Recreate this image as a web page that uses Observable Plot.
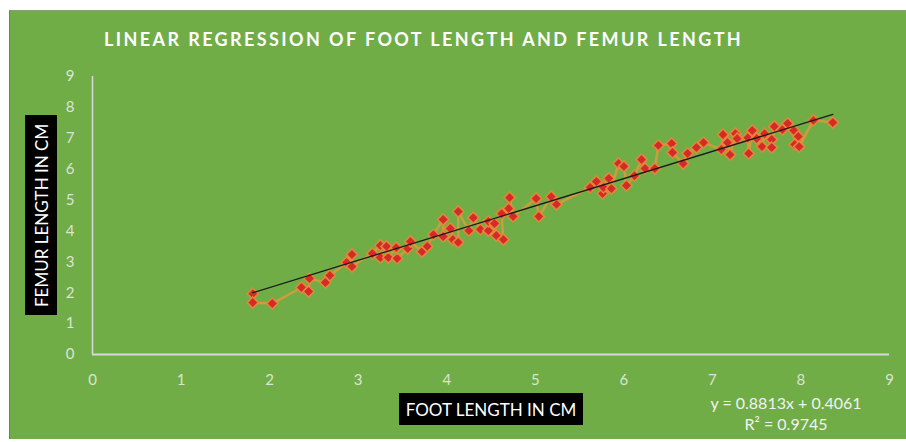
<!DOCTYPE html>
<html>
<head>
<meta charset="utf-8">
<script src="https://cdn.jsdelivr.net/npm/d3@7"></script>
<script src="https://cdn.jsdelivr.net/npm/@observablehq/plot@0.6"></script>
<style>
  html, body { margin: 0; padding: 0; background: #ffffff; }
  #wrap { position: relative; width: 906px; height: 442px; overflow: hidden; font-family: Lato, "Open Sans", sans-serif; }
  #bg { position: absolute; left: 9px; top: 10px; right: 0; bottom: 3px; background: #70AD47; border-left: 1px solid #5d9338; border-top: 1px solid #8a9a7a; }
  #chart { position: absolute; left: 0; top: 0; }
  .title { position: absolute; left: 104px; top: 28px; color: #ffffff; font-weight: 700; font-size: 18px; letter-spacing: 2.4px; white-space: nowrap; }
  .ylab { position: absolute; left: 25px; top: 115px; width: 32px; height: 200px; background: #000; color: #fff; font-size: 17px;
          writing-mode: vertical-rl; transform: rotate(180deg); display: flex; align-items: center; justify-content: center; white-space: nowrap; }
  .xlab { position: absolute; left: 399px; top: 393px; width: 184px; height: 32px; background: #000; color: #fff; font-size: 17px;
          display: flex; align-items: center; justify-content: center; white-space: nowrap; }
  .eq { position: absolute; left: 686px; width: 200px; text-align: center; color: #F2F2F2; font-size: 16px; white-space: nowrap; }
</style>
</head>
<body>
<div id="wrap">
  <div id="bg"></div>
  <div id="chart"></div>
  <div class="title">LINEAR REGRESSION OF FOOT LENGTH AND FEMUR LENGTH</div>
  <div class="ylab">FEMUR LENGTH IN CM</div>
  <div class="xlab">FOOT LENGTH IN CM</div>
  <div class="eq" style="top:393px">y = 0.8813x + 0.4061</div>
  <div class="eq" style="top:414px">R² = 0.9745</div>
</div>
<script>
// Foot length (cm), in series order
const footLength = [1.81,1.81,2.03,2.36,2.44,2.45,2.63,2.68,2.87,2.93,2.93,3.16,3.25,3.32,3.25,3.34,3.43,3.44,3.56,3.59,3.72,3.78,3.85,3.96,3.96,4.04,4.07,4.13,4.13,4.25,4.30,4.38,4.47,4.47,4.54,4.56,4.64,4.62,4.70,4.71,4.75,5.01,5.04,5.18,5.24,5.62,5.69,5.76,5.77,5.83,5.86,5.94,6.00,6.03,6.12,6.20,6.24,6.35,6.39,6.54,6.55,6.67,6.72,6.82,6.90,7.10,7.12,7.17,7.20,7.26,7.28,7.40,7.41,7.45,7.50,7.56,7.59,7.67,7.67,7.70,7.79,7.85,7.92,7.97,7.93,7.98,8.14,8.36];
// Femur length (cm), same order
const femurLength = [1.97,1.68,1.65,2.17,2.04,2.46,2.33,2.56,2.98,3.24,2.85,3.27,3.53,3.50,3.14,3.14,3.46,3.11,3.43,3.66,3.33,3.50,3.88,4.37,3.82,4.08,3.72,3.63,4.63,4.01,4.43,4.05,4.01,4.31,4.24,3.85,3.72,4.56,4.73,5.08,4.47,5.05,4.47,5.11,4.86,5.41,5.60,5.21,5.41,5.70,5.37,6.18,6.09,5.47,5.79,6.31,6.02,6.02,6.77,6.83,6.54,6.18,6.51,6.70,6.86,6.64,7.12,6.86,6.47,7.15,6.99,7.02,6.51,7.25,6.99,6.73,7.15,6.96,6.70,7.38,7.28,7.48,7.25,7.06,6.80,6.73,7.58,7.51];
const xTicks = [0,1,2,3,4,5,6,7,8,9];
const yTicks = [0,1,2,3,4,5,6,7,8,9];
const slope = 0.8813;
const intercept = 0.4061;

const points = footLength.map((x, i) => ({x, y: femurLength[i]}));
const xMin = d3.min(footLength), xMax = d3.max(footLength);
const trend = [xMin, xMax].map(x => ({x, y: slope * x + intercept}));

const chart = Plot.plot({
  width: 906,
  height: 442,
  marginLeft: 92,
  marginRight: 17,
  marginTop: 76,
  marginBottom: 88,
  style: {background: "transparent", color: "#DCE3D5", fontFamily: "Lato, 'Open Sans', sans-serif", fontSize: "15px", overflow: "visible"},
  x: {domain: [0, 9]},
  y: {domain: [0, 9]},
  marks: [
    Plot.axisX({ticks: xTicks, tickSize: 0, tickPadding: 20, label: null, fontSize: 15}),
    Plot.axisY({ticks: yTicks, tickSize: 0, tickPadding: 18, label: null, fontSize: 15}),
    Plot.ruleX([0], {stroke: "#D9D9D9", strokeWidth: 1.5}),
    Plot.ruleY([0], {stroke: "#D9D9D9", strokeWidth: 2}),
    Plot.line(points, {x: "x", y: "y", stroke: "#DC9A3C", strokeOpacity: 0.85, strokeWidth: 2.5}),
    Plot.dot(points, {x: "x", y: "y", symbol: "diamond2", r: 5, fill: "#D42A2A", stroke: "#E8893A", strokeOpacity: 0.9, strokeWidth: 1.6}),
    Plot.line(trend, {x: "x", y: "y", stroke: "#1a1a1a", strokeWidth: 1.3})
  ]
});
document.getElementById("chart").appendChild(chart);
</script>
</body>
</html>
